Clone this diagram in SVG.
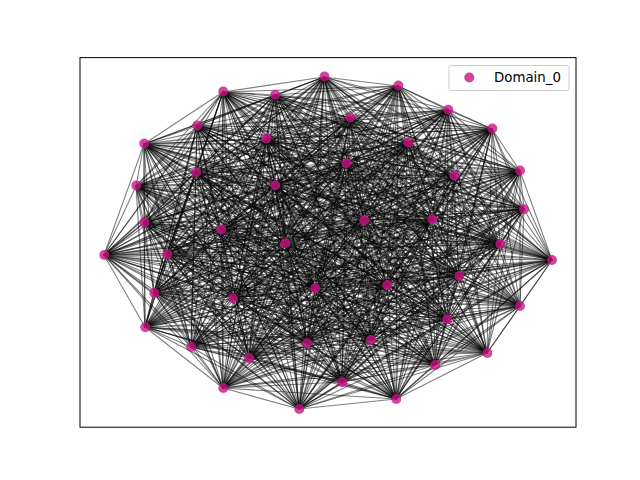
<svg xmlns="http://www.w3.org/2000/svg" width="640" height="480" viewBox="0 0 640 480">
<style>
.e{fill:none;stroke:#000;stroke-opacity:0.5;stroke-width:1.1;stroke-linejoin:round}
.n{fill:#C71585;fill-opacity:0.8}
.t{font-family:"DejaVu Sans",sans-serif;font-size:13.33px;fill:#000}
</style>
<rect x="0" y="0" width="640" height="480" fill="#fff"/>
<g id="edges">
<path class="e" d="M299 409 324 77 398 86 396 399 223 92 223 388 275 95 342 382 448 110 435 365 350 118 249 358 197 126 487 353 492 129 191 347 266 139 307 343 408 143 371 340 144 144 145 327 346 163 447 319 196 172 520 306 520 171 233 298 454 176 154 293 136 186 387 285 275 185 315 288 524 209 459 276 364 220 552 260 432 219 167 254 144 223 104 255 221 230 500 244 285 243 299 409"/>
<path class="e" d="M299 409 398 86 223 92 324 77 275 95 396 399 448 110 223 388 350 118 342 382 197 126 435 365 492 129 249 358 266 139 487 353 408 143 191 347 144 144 307 343 346 163 371 340 196 172 145 327 520 171 447 319 454 176 520 306 136 186 233 298 275 185 154 293 524 209 387 285 364 220 315 288 432 219 459 276 144 223 552 260 221 230 167 254 285 243 104 255 500 244 299 409"/>
<path class="e" d="M299 409 223 92 275 95 398 86 448 110 324 77 350 118 396 399 197 126 223 388 492 129 342 382 266 139 435 365 408 143 249 358 144 144 487 353 346 163 191 347 196 172 307 343 520 171 371 340 454 176 145 327 136 186 447 319 275 185 520 306 524 209 233 298 364 220 154 293 432 219 387 285 144 223 315 288 221 230 459 276 285 243 552 260 500 244 167 254 104 255 299 409"/>
<path class="e" d="M299 409 275 95 448 110 223 92 350 118 398 86 197 126 324 77 492 129 396 399 266 139 223 388 408 143 342 382 144 144 435 365 346 163 249 358 196 172 487 353 520 171 191 347 454 176 307 343 136 186 371 340 275 185 145 327 524 209 447 319 364 220 520 306 432 219 233 298 144 223 154 293 221 230 387 285 285 243 315 288 500 244 459 276 104 255 552 260 167 254 299 409"/>
<path class="e" d="M299 409 448 110 350 118 275 95 197 126 223 92 492 129 398 86 266 139 324 77 408 143 396 399 144 144 223 388 346 163 342 382 196 172 435 365 520 171 249 358 454 176 487 353 136 186 191 347 275 185 307 343 524 209 371 340 364 220 145 327 432 219 447 319 144 223 520 306 221 230 233 298 285 243 154 293 500 244 387 285 104 255 315 288 167 254 459 276 552 260 299 409"/>
<path class="e" d="M299 409 350 118 197 126 448 110 492 129 275 95 266 139 223 92 408 143 398 86 144 144 324 77 346 163 396 399 196 172 223 388 520 171 342 382 454 176 435 365 136 186 249 358 275 185 487 353 524 209 191 347 364 220 307 343 432 219 371 340 144 223 145 327 221 230 447 319 285 243 520 306 500 244 233 298 104 255 154 293 167 254 387 285 552 260 315 288 459 276 299 409"/>
<path class="e" d="M299 409 197 126 492 129 350 118 266 139 448 110 408 143 275 95 144 144 223 92 346 163 398 86 196 172 324 77 520 171 396 399 454 176 223 388 136 186 342 382 275 185 435 365 524 209 249 358 364 220 487 353 432 219 191 347 144 223 307 343 221 230 371 340 285 243 145 327 500 244 447 319 104 255 520 306 167 254 233 298 552 260 154 293 459 276 387 285 315 288 299 409"/>
<path class="e" d="M299 409 492 129 266 139 197 126 408 143 350 118 144 144 448 110 346 163 275 95 196 172 223 92 520 171 398 86 454 176 324 77 136 186 396 399 275 185 223 388 524 209 342 382 364 220 435 365 432 219 249 358 144 223 487 353 221 230 191 347 285 243 307 343 500 244 371 340 104 255 145 327 167 254 447 319 552 260 520 306 459 276 233 298 315 288 154 293 387 285 299 409"/>
<path class="e" d="M299 409 266 139 408 143 492 129 144 144 197 126 346 163 350 118 196 172 448 110 520 171 275 95 454 176 223 92 136 186 398 86 275 185 324 77 524 209 396 399 364 220 223 388 432 219 342 382 144 223 435 365 221 230 249 358 285 243 487 353 500 244 191 347 104 255 307 343 167 254 371 340 552 260 145 327 459 276 447 319 315 288 520 306 387 285 233 298 154 293 299 409"/>
<path class="e" d="M299 409 408 143 144 144 266 139 346 163 492 129 196 172 197 126 520 171 350 118 454 176 448 110 136 186 275 95 275 185 223 92 524 209 398 86 364 220 324 77 432 219 396 399 144 223 223 388 221 230 342 382 285 243 435 365 500 244 249 358 104 255 487 353 167 254 191 347 552 260 307 343 459 276 371 340 315 288 145 327 387 285 447 319 154 293 520 306 233 298 299 409"/>
<path class="e" d="M299 409 144 144 346 163 408 143 196 172 266 139 520 171 492 129 454 176 197 126 136 186 350 118 275 185 448 110 524 209 275 95 364 220 223 92 432 219 398 86 144 223 324 77 221 230 396 399 285 243 223 388 500 244 342 382 104 255 435 365 167 254 249 358 552 260 487 353 459 276 191 347 315 288 307 343 387 285 371 340 154 293 145 327 233 298 447 319 520 306 299 409"/>
<path class="e" d="M299 409 346 163 196 172 144 144 520 171 408 143 454 176 266 139 136 186 492 129 275 185 197 126 524 209 350 118 364 220 448 110 432 219 275 95 144 223 223 92 221 230 398 86 285 243 324 77 500 244 396 399 104 255 223 388 167 254 342 382 552 260 435 365 459 276 249 358 315 288 487 353 387 285 191 347 154 293 307 343 233 298 371 340 520 306 145 327 447 319 299 409"/>
<path class="e" d="M299 409 196 172 520 171 346 163 454 176 144 144 136 186 408 143 275 185 266 139 524 209 492 129 364 220 197 126 432 219 350 118 144 223 448 110 221 230 275 95 285 243 223 92 500 244 398 86 104 255 324 77 167 254 396 399 552 260 223 388 459 276 342 382 315 288 435 365 387 285 249 358 154 293 487 353 233 298 191 347 520 306 307 343 447 319 371 340 145 327 299 409"/>
<path class="e" d="M299 409 520 171 454 176 196 172 136 186 346 163 275 185 144 144 524 209 408 143 364 220 266 139 432 219 492 129 144 223 197 126 221 230 350 118 285 243 448 110 500 244 275 95 104 255 223 92 167 254 398 86 552 260 324 77 459 276 396 399 315 288 223 388 387 285 342 382 154 293 435 365 233 298 249 358 520 306 487 353 447 319 191 347 145 327 307 343 371 340 299 409"/>
<path class="e" d="M299 409 454 176 136 186 520 171 275 185 196 172 524 209 346 163 364 220 144 144 432 219 408 143 144 223 266 139 221 230 492 129 285 243 197 126 500 244 350 118 104 255 448 110 167 254 275 95 552 260 223 92 459 276 398 86 315 288 324 77 387 285 396 399 154 293 223 388 233 298 342 382 520 306 435 365 447 319 249 358 145 327 487 353 371 340 191 347 307 343 299 409"/>
<path class="e" d="M299 409 136 186 275 185 454 176 524 209 520 171 364 220 196 172 432 219 346 163 144 223 144 144 221 230 408 143 285 243 266 139 500 244 492 129 104 255 197 126 167 254 350 118 552 260 448 110 459 276 275 95 315 288 223 92 387 285 398 86 154 293 324 77 233 298 396 399 520 306 223 388 447 319 342 382 145 327 435 365 371 340 249 358 307 343 487 353 191 347 299 409"/>
<path class="e" d="M299 409 275 185 524 209 136 186 364 220 454 176 432 219 520 171 144 223 196 172 221 230 346 163 285 243 144 144 500 244 408 143 104 255 266 139 167 254 492 129 552 260 197 126 459 276 350 118 315 288 448 110 387 285 275 95 154 293 223 92 233 298 398 86 520 306 324 77 447 319 396 399 145 327 223 388 371 340 342 382 307 343 435 365 191 347 249 358 487 353 299 409"/>
<path class="e" d="M299 409 524 209 364 220 275 185 432 219 136 186 144 223 454 176 221 230 520 171 285 243 196 172 500 244 346 163 104 255 144 144 167 254 408 143 552 260 266 139 459 276 492 129 315 288 197 126 387 285 350 118 154 293 448 110 233 298 275 95 520 306 223 92 447 319 398 86 145 327 324 77 371 340 396 399 307 343 223 388 191 347 342 382 487 353 435 365 249 358 299 409"/>
<path class="e" d="M299 409 364 220 432 219 524 209 144 223 275 185 221 230 136 186 285 243 454 176 500 244 520 171 104 255 196 172 167 254 346 163 552 260 144 144 459 276 408 143 315 288 266 139 387 285 492 129 154 293 197 126 233 298 350 118 520 306 448 110 447 319 275 95 145 327 223 92 371 340 398 86 307 343 324 77 191 347 396 399 487 353 223 388 249 358 342 382 435 365 299 409"/>
<path class="e" d="M299 409 432 219 144 223 364 220 221 230 524 209 285 243 275 185 500 244 136 186 104 255 454 176 167 254 520 171 552 260 196 172 459 276 346 163 315 288 144 144 387 285 408 143 154 293 266 139 233 298 492 129 520 306 197 126 447 319 350 118 145 327 448 110 371 340 275 95 307 343 223 92 191 347 398 86 487 353 324 77 249 358 396 399 435 365 223 388 342 382 299 409"/>
<path class="e" d="M299 409 144 223 221 230 432 219 285 243 364 220 500 244 524 209 104 255 275 185 167 254 136 186 552 260 454 176 459 276 520 171 315 288 196 172 387 285 346 163 154 293 144 144 233 298 408 143 520 306 266 139 447 319 492 129 145 327 197 126 371 340 350 118 307 343 448 110 191 347 275 95 487 353 223 92 249 358 398 86 435 365 324 77 342 382 396 399 223 388 299 409"/>
<path class="e" d="M299 409 221 230 285 243 144 223 500 244 432 219 104 255 364 220 167 254 524 209 552 260 275 185 459 276 136 186 315 288 454 176 387 285 520 171 154 293 196 172 233 298 346 163 520 306 144 144 447 319 408 143 145 327 266 139 371 340 492 129 307 343 197 126 191 347 350 118 487 353 448 110 249 358 275 95 435 365 223 92 342 382 398 86 223 388 324 77 396 399 299 409"/>
</g>
<g id="n0"><circle class="n" cx="324.5" cy="76.5" r="5"/></g>
<g id="n1"><circle class="n" cx="398.3" cy="85.5" r="5"/></g>
<g id="n2"><circle class="n" cx="223.3" cy="91.5" r="5"/></g>
<g id="n3"><circle class="n" cx="275.3" cy="94.7" r="5"/></g>
<g id="n4"><circle class="n" cx="448.3" cy="109.7" r="5"/></g>
<g id="n5"><circle class="n" cx="350.3" cy="117.5" r="5"/></g>
<g id="n6"><circle class="n" cx="197.3" cy="125.5" r="5"/></g>
<g id="n7"><circle class="n" cx="492.3" cy="128.5" r="5"/></g>
<g id="n8"><circle class="n" cx="266.3" cy="138.5" r="5"/></g>
<g id="n9"><circle class="n" cx="408.3" cy="142.5" r="5"/></g>
<g id="n10"><circle class="n" cx="144.3" cy="143.5" r="5"/></g>
<g id="n11"><circle class="n" cx="346.3" cy="163.3" r="5"/></g>
<g id="n12"><circle class="n" cx="196" cy="172.3" r="5"/></g>
<g id="n13"><circle class="n" cx="520" cy="170.5" r="5"/></g>
<g id="n14"><circle class="n" cx="454.3" cy="175.5" r="5"/></g>
<g id="n15"><circle class="n" cx="136.3" cy="185.5" r="5"/></g>
<g id="n16"><circle class="n" cx="275.3" cy="185.3" r="5"/></g>
<g id="n17"><circle class="n" cx="524" cy="209.3" r="5"/></g>
<g id="n18"><circle class="n" cx="364.3" cy="220.3" r="5"/></g>
<g id="n19"><circle class="n" cx="432.3" cy="219.3" r="5"/></g>
<g id="n20"><circle class="n" cx="144.3" cy="222.5" r="5"/></g>
<g id="n21"><circle class="n" cx="221.3" cy="229.5" r="5"/></g>
<g id="n22"><circle class="n" cx="285.3" cy="243.2" r="5"/></g>
<g id="n23"><circle class="n" cx="500.3" cy="244" r="5"/></g>
<g id="n24"><circle class="n" cx="104.3" cy="255" r="5"/></g>
<g id="n25"><circle class="n" cx="167.3" cy="254.3" r="5"/></g>
<g id="n26"><circle class="n" cx="552" cy="260" r="5"/></g>
<g id="n27"><circle class="n" cx="459.3" cy="276" r="5"/></g>
<g id="n28"><circle class="n" cx="315.3" cy="288.3" r="5"/></g>
<g id="n29"><circle class="n" cx="387.3" cy="285" r="5"/></g>
<g id="n30"><circle class="n" cx="154.3" cy="293" r="5"/></g>
<g id="n31"><circle class="n" cx="233" cy="298.3" r="5"/></g>
<g id="n32"><circle class="n" cx="520" cy="306" r="5"/></g>
<g id="n33"><circle class="n" cx="447.3" cy="319.3" r="5"/></g>
<g id="n34"><circle class="n" cx="145.3" cy="327.3" r="5"/></g>
<g id="n35"><circle class="n" cx="371" cy="340" r="5"/></g>
<g id="n36"><circle class="n" cx="307.3" cy="343.3" r="5"/></g>
<g id="n37"><circle class="n" cx="191.3" cy="347" r="5"/></g>
<g id="n38"><circle class="n" cx="487.3" cy="353" r="5"/></g>
<g id="n39"><circle class="n" cx="249.3" cy="358" r="5"/></g>
<g id="n40"><circle class="n" cx="435.3" cy="365" r="5"/></g>
<g id="n41"><circle class="n" cx="342.3" cy="382.3" r="5"/></g>
<g id="n42"><circle class="n" cx="223.3" cy="388" r="5"/></g>
<g id="n43"><circle class="n" cx="396.3" cy="399" r="5"/></g>
<g id="n44"><circle class="n" cx="299.3" cy="409" r="5"/></g>
<rect x="80" y="57.6" width="496" height="369.6" fill="none" stroke="#000" stroke-width="1"/>
<g id="legend">
<rect x="449" y="65.5" width="120" height="25" rx="2" fill="#fff" fill-opacity="0.8" stroke="#ccc" stroke-width="1"/>
<circle class="n" cx="469.3" cy="77.5" r="5"/>
<text class="t" x="494" y="81.5">Domain_0</text>
</g>
</svg>
